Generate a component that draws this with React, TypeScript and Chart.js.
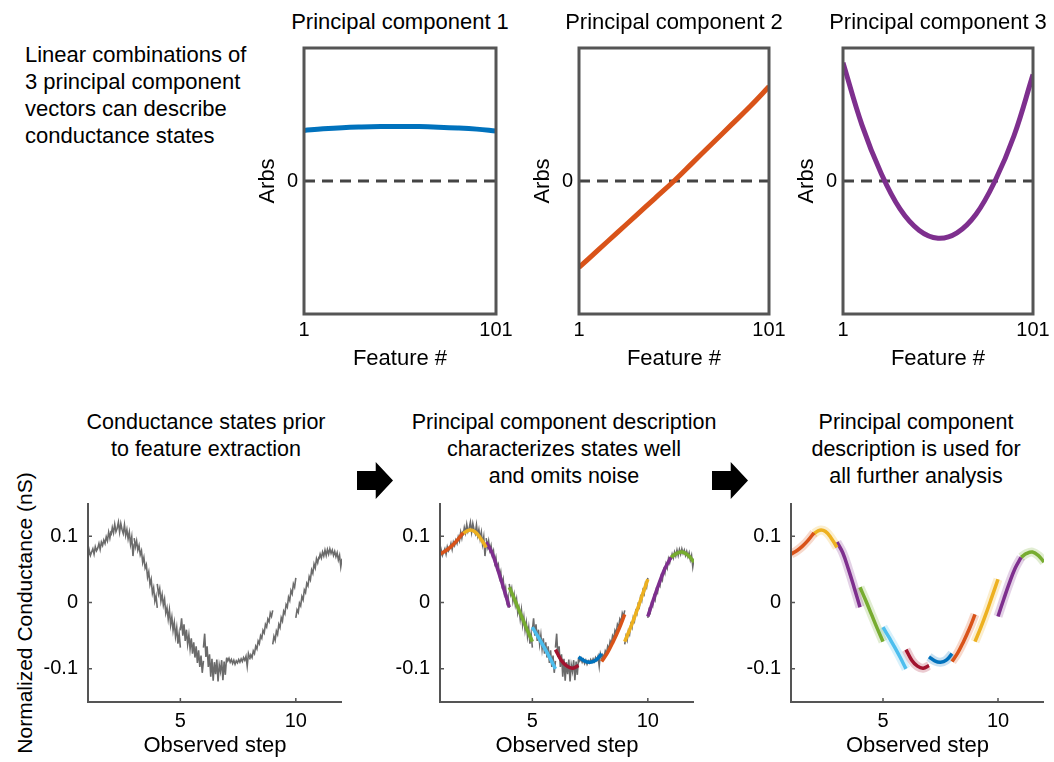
import React, { useEffect, useRef } from "react";
import { Chart, registerables } from "chart.js";

Chart.register(...registerables);

const FONT = '"Liberation Sans", Arial, Helvetica, sans-serif';
const AXIS_GRAY = "#555555";
const TRACE_GRAY = "#6b6b6b";

// ---------- Top row: principal component vectors ----------
const FEATURES = [1, 11, 21, 31, 41, 51, 61, 71, 81, 91, 101];
const FEATURE_TICKS = [1, 101];
const ARBS_TICKS = [0];
const PC1 = [0.38, 0.392, 0.401, 0.406, 0.409, 0.41, 0.409, 0.405, 0.399, 0.39, 0.376];
const PC2 = [-0.65, -0.52, -0.39, -0.26, -0.13, 0.0, 0.14, 0.28, 0.42, 0.56, 0.71];
const PC3 = [0.89, 0.42, 0.06, -0.21, -0.37, -0.43, -0.39, -0.25, 0.0, 0.34, 0.8];
const PC_TITLES = ["Principal component 1", "Principal component 2", "Principal component 3"];
const PC_COLORS = ["#0072BD", "#D95319", "#7E2F8E"];

// ---------- Bottom row: conductance states ----------
const STEPS = [1, 2, 3, 4, 5, 6, 7, 8, 9, 10, 11];
const STEP_TICKS = [5, 10];
const CONDUCTANCE_TICKS = [-0.1, 0, 0.1];
const FIT_OFFSETS = [0, 0.25, 0.5, 0.75, 1];

const RAW_1 = [0.068, 0.079, 0.071, 0.076, 0.081, 0.073, 0.084, 0.078, 0.082, 0.089, 0.08, 0.091, 0.086, 0.094, 0.089, 0.099, 0.093, 0.106, 0.097, 0.108];
const RAW_2 = [0.101, 0.113, 0.105, 0.118, 0.107, 0.112, 0.121, 0.106, 0.119, 0.11, 0.104, 0.117, 0.101, 0.11, 0.096, 0.106, 0.088, 0.099, 0.07, 0.089];
const RAW_3 = [0.097, 0.084, 0.093, 0.079, 0.086, 0.072, 0.078, 0.06, 0.068, 0.052, 0.057, 0.038, 0.046, 0.027, 0.035, 0.014, 0.022, 0.002, 0.01, -0.008];
const RAW_4 = [0.028, 0.013, 0.021, 0.002, 0.012, -0.004, 0.005, -0.016, -0.008, -0.025, -0.011, -0.034, -0.022, -0.042, -0.03, -0.051, -0.038, -0.062, -0.047, -0.068];
const RAW_5 = [-0.042, -0.024, -0.05, -0.033, -0.058, -0.041, -0.063, -0.049, -0.07, -0.054, -0.077, -0.06, -0.083, -0.066, -0.091, -0.072, -0.097, -0.08, -0.106, -0.088];
const RAW_6 = [-0.068, -0.047, -0.082, -0.066, -0.097, -0.078, -0.112, -0.085, -0.118, -0.09, -0.108, -0.086, -0.119, -0.094, -0.104, -0.087, -0.117, -0.089, -0.109, -0.084];
const RAW_7 = [-0.083, -0.088, -0.084, -0.09, -0.086, -0.092, -0.087, -0.093, -0.088, -0.091, -0.086, -0.09, -0.085, -0.089, -0.083, -0.087, -0.081, -0.096, -0.077, -0.083];
const RAW_8 = [-0.086, -0.079, -0.083, -0.073, -0.077, -0.066, -0.07, -0.058, -0.062, -0.05, -0.054, -0.042, -0.046, -0.033, -0.037, -0.025, -0.029, -0.016, -0.021, -0.012];
const RAW_9 = [-0.063, -0.051, -0.057, -0.043, -0.048, -0.033, -0.038, -0.023, -0.028, -0.013, -0.017, -0.003, -0.007, 0.008, 0.003, 0.018, 0.013, 0.028, 0.023, 0.037];
const RAW_10 = [-0.023, -0.011, -0.015, -0.001, -0.005, 0.009, 0.004, 0.019, 0.015, 0.029, 0.025, 0.039, 0.034, 0.049, 0.044, 0.058, 0.052, 0.066, 0.06, 0.069];
const RAW_11 = [0.065, 0.073, 0.067, 0.076, 0.07, 0.079, 0.071, 0.08, 0.073, 0.081, 0.074, 0.079, 0.071, 0.077, 0.069, 0.075, 0.064, 0.071, 0.054, 0.066];
const RAW_STATES = [RAW_1, RAW_2, RAW_3, RAW_4, RAW_5, RAW_6, RAW_7, RAW_8, RAW_9, RAW_10, RAW_11];

const FIT_1 = [0.073, 0.078, 0.085, 0.094, 0.105];
const FIT_2 = [0.104, 0.109, 0.107, 0.097, 0.083];
const FIT_3 = [0.091, 0.075, 0.05, 0.022, -0.007];
const FIT_4 = [0.023, 0.003, -0.018, -0.039, -0.059];
const FIT_5 = [-0.037, -0.052, -0.067, -0.083, -0.1];
const FIT_6 = [-0.071, -0.087, -0.096, -0.099, -0.095];
const FIT_7 = [-0.082, -0.088, -0.09, -0.087, -0.077];
const FIT_8 = [-0.089, -0.076, -0.059, -0.04, -0.018];
const FIT_9 = [-0.059, -0.038, -0.015, 0.01, 0.035];
const FIT_10 = [-0.021, 0.005, 0.03, 0.052, 0.068];
const FIT_11 = [0.068, 0.074, 0.076, 0.071, 0.061];
const FIT_STATES = [FIT_1, FIT_2, FIT_3, FIT_4, FIT_5, FIT_6, FIT_7, FIT_8, FIT_9, FIT_10, FIT_11];
const SEGMENT_COLORS = ["#D95319", "#EDB120", "#7E2F8E", "#77AC30", "#4DBEEE", "#A2142F", "#0072BD", "#D95319", "#EDB120", "#7E2F8E", "#77AC30"];

const BOTTOM_TITLES = [
  ["Conductance states prior", "to feature extraction"],
  ["Principal component description", "characterizes states well", "and omits noise"],
  ["Principal component", "description is used for", "all further analysis"],
];
const INTRO_TEXT = ["Linear combinations of", "3 principal component", "vectors can describe", "conductance states"];
const Y_LABEL = "Normalized Conductance (nS)";

function rgba(hex: string, a: number) {
  const n = parseInt(hex.slice(1), 16);
  return `rgba(${(n >> 16) & 255},${(n >> 8) & 255},${n & 255},${a})`;
}

const boxPlugin = {
  id: "boxFrame",
  afterDraw(chart: any) {
    const { ctx, chartArea } = chart;
    ctx.save();
    ctx.strokeStyle = AXIS_GRAY;
    ctx.lineWidth = 3;
    ctx.strokeRect(chartArea.left, chartArea.top, chartArea.right - chartArea.left, chartArea.bottom - chartArea.top);
    ctx.restore();
  },
};

const lAxisPlugin = {
  id: "lAxis",
  afterDraw(chart: any) {
    const { ctx, chartArea, scales } = chart;
    const { left, right, top, bottom } = chartArea;
    ctx.save();
    ctx.strokeStyle = AXIS_GRAY;
    ctx.lineWidth = 2;
    ctx.beginPath();
    ctx.moveTo(left, top);
    ctx.lineTo(left, bottom);
    ctx.lineTo(right, bottom);
    ctx.stroke();
    ctx.lineWidth = 1.5;
    ctx.beginPath();
    for (const v of STEP_TICKS) {
      const px = scales.x.getPixelForValue(v);
      ctx.moveTo(px, bottom);
      ctx.lineTo(px, bottom - 4);
    }
    for (const v of CONDUCTANCE_TICKS) {
      const py = scales.y.getPixelForValue(v);
      ctx.moveTo(left, py);
      ctx.lineTo(left + 4, py);
    }
    ctx.stroke();
    ctx.restore();
  },
};

const tickFont = { family: FONT, size: 20 };
const labelFont = { family: FONT, size: 22 };

const TOP_PAD_PC = 24;
const TOP_PAD_STATE = 26;

function pcConfig(values: number[], color: string, rightPad: number): any {
  return {
    type: "line",
    data: {
      datasets: [
        {
          data: FEATURES.map((f, i) => ({ x: f, y: values[i] })),
          borderColor: color,
          borderWidth: 5,
          pointRadius: 0,
          tension: 0.4,
          order: 0,
        },
        {
          data: [
            { x: FEATURES[0], y: 0 },
            { x: FEATURES[FEATURES.length - 1], y: 0 },
          ],
          borderColor: "#444444",
          borderWidth: 3,
          borderDash: [11, 7],
          pointRadius: 0,
          order: 1,
        },
      ],
    },
    options: {
      responsive: false,
      animation: false,
      events: [],
      layout: { padding: { top: TOP_PAD_PC, right: rightPad, left: 0, bottom: 0 } },
      plugins: { legend: { display: false }, tooltip: { enabled: false } },
      scales: {
        x: {
          type: "linear",
          min: 1,
          max: 101,
          afterBuildTicks: (s: any) => {
            s.ticks = FEATURE_TICKS.map((v) => ({ value: v }));
          },
          afterFit: (s: any) => {
            s.height = 58;
          },
          grid: { display: false, drawTicks: false },
          border: { display: false },
          ticks: { padding: 4, color: "#000", font: tickFont, maxRotation: 0, autoSkip: false },
          title: { display: true, text: "Feature #", color: "#000", font: labelFont, padding: { top: 0, bottom: 0 } },
        },
        y: {
          type: "linear",
          min: -1,
          max: 1,
          afterBuildTicks: (s: any) => {
            s.ticks = ARBS_TICKS.map((v) => ({ value: v }));
          },
          afterFit: (s: any) => {
            s.width = 54;
          },
          grid: { display: false, drawTicks: false },
          border: { display: false },
          ticks: { padding: 6, color: "#000", font: tickFont },
          title: { display: true, text: "Arbs", color: "#000", font: labelFont, padding: { top: 5, bottom: 0 } },
        },
      },
    },
    plugins: [boxPlugin],
  };
}

function stateConfig(opt: { raw: boolean; fits: boolean; bands: boolean; yWidth: number; rightPad: number }): any {
  const datasets: any[] = [];
  if (opt.fits) {
    STEPS.forEach((s, i) => {
      datasets.push({
        data: FIT_OFFSETS.map((o, k) => ({ x: s + o, y: FIT_STATES[i][k] })),
        borderColor: SEGMENT_COLORS[i],
        borderWidth: 3.5,
        pointRadius: 0,
        tension: 0.4,
        order: 0,
      });
    });
  }
  if (opt.bands) {
    STEPS.forEach((s, i) => {
      datasets.push({
        data: FIT_OFFSETS.map((o, k) => ({ x: s + o, y: FIT_STATES[i][k] })),
        borderColor: rgba(SEGMENT_COLORS[i], 0.22),
        borderWidth: 9,
        pointRadius: 0,
        tension: 0.4,
        order: 1,
      });
    });
  }
  if (opt.raw) {
    STEPS.forEach((s, i) => {
      const vals = RAW_STATES[i];
      datasets.push({
        data: vals.map((v, k) => ({ x: s + k / (vals.length - 1), y: v })),
        borderColor: TRACE_GRAY,
        borderWidth: 1.6,
        pointRadius: 0,
        tension: 0,
        order: 2,
      });
    });
  }
  return {
    type: "line",
    data: { datasets },
    options: {
      responsive: false,
      animation: false,
      events: [],
      layout: { padding: { top: TOP_PAD_STATE, right: opt.rightPad, left: 0, bottom: 0 } },
      plugins: { legend: { display: false }, tooltip: { enabled: false } },
      scales: {
        x: {
          type: "linear",
          min: 1,
          max: 12,
          afterBuildTicks: (s: any) => {
            s.ticks = STEP_TICKS.map((v) => ({ value: v }));
          },
          afterFit: (s: any) => {
            s.height = 57;
          },
          grid: { display: false, drawTicks: false },
          border: { display: false },
          ticks: { padding: 7, color: "#000", font: tickFont, maxRotation: 0, autoSkip: false },
          title: { display: true, text: "Observed step", color: "#000", font: labelFont, padding: { top: 0, bottom: 0 } },
        },
        y: {
          type: "linear",
          min: -0.15,
          max: 0.15,
          afterBuildTicks: (s: any) => {
            s.ticks = CONDUCTANCE_TICKS.map((v) => ({ value: v }));
          },
          afterFit: (s: any) => {
            s.width = opt.yWidth;
          },
          grid: { display: false, drawTicks: false },
          border: { display: false },
          ticks: {
            padding: 10,
            color: "#000",
            font: tickFont,
            callback: (v: any) => (Math.abs(v) < 1e-9 ? "0" : Number(v).toFixed(1)),
          },
        },
      },
    },
    plugins: [lAxisPlugin],
  };
}

function ChartBox(props: { left: number; top: number; width: number; height: number; make: () => any }) {
  const ref = useRef<HTMLCanvasElement | null>(null);
  useEffect(() => {
    const chart = new Chart(ref.current as HTMLCanvasElement, props.make());
    return () => chart.destroy();
  }, []);
  return (
    <canvas
      ref={ref}
      width={props.width}
      height={props.height}
      style={{ position: "absolute", left: props.left, top: props.top, width: props.width, height: props.height }}
    />
  );
}

function TextLines(props: { lines: string[]; cx?: number; left?: number; top: number; size: number; lh: number }) {
  const style: any = {
    position: "absolute",
    top: props.top,
    fontFamily: FONT,
    fontSize: props.size,
    lineHeight: `${props.lh}px`,
    color: "#000",
    whiteSpace: "nowrap",
  };
  if (props.cx !== undefined) {
    style.left = props.cx - 250;
    style.width = 500;
    style.textAlign = "center";
  } else {
    style.left = props.left;
  }
  return (
    <div style={style}>
      {props.lines.map((l, i) => (
        <div key={i}>{l}</div>
      ))}
    </div>
  );
}

function Arrow(props: { left: number; top: number }) {
  return (
    <div
      style={{
        position: "absolute",
        left: props.left,
        top: props.top,
        width: 36,
        height: 37,
        background: "#000",
        clipPath: "polygon(0 24%, 52% 24%, 52% 0, 100% 50%, 52% 100%, 52% 76%, 0 76%)",
      }}
    />
  );
}

export default function App() {
  const pcBoxes = [
    { boxLeft: 304, boxW: 192, rightPad: 22 },
    { boxLeft: 579, boxW: 190, rightPad: 22 },
    { boxLeft: 843, boxW: 190, rightPad: 21 },
  ];
  const pcValues = [PC1, PC2, PC3];
  const pcTop = 48 - TOP_PAD_PC;
  const stTop = 503 - TOP_PAD_STATE;
  return (
    <div style={{ position: "absolute", left: 0, top: 0, width: 1054, height: 762, overflow: "hidden", background: "#fff" }}>
      <TextLines lines={INTRO_TEXT} left={25} top={41} size={22} lh={27} />
      {pcBoxes.map((b, i) => (
        <React.Fragment key={"pc" + i}>
          <TextLines lines={[PC_TITLES[i]]} cx={b.boxLeft + b.boxW / 2} top={9} size={22} lh={26} />
          <ChartBox
            left={b.boxLeft - 54}
            top={pcTop}
            width={54 + b.boxW + b.rightPad}
            height={TOP_PAD_PC + 266 + 58}
            make={() => pcConfig(pcValues[i], PC_COLORS[i], b.rightPad)}
          />
        </React.Fragment>
      ))}

      <TextLines lines={BOTTOM_TITLES[0]} cx={206} top={409} size={21.5} lh={27} />
      <TextLines lines={BOTTOM_TITLES[1]} cx={564} top={409} size={21.5} lh={27} />
      <TextLines lines={BOTTOM_TITLES[2]} cx={916} top={409} size={21.5} lh={27} />
      <Arrow left={357} top={462} />
      <Arrow left={712} top={462} />

      <div
        style={{
          position: "absolute",
          left: 25 - 200,
          top: 613 - 13,
          width: 400,
          height: 26,
          lineHeight: "26px",
          textAlign: "center",
          fontFamily: FONT,
          fontSize: 21,
          color: "#000",
          whiteSpace: "nowrap",
          transform: "rotate(-90deg)",
        }}
      >
        {Y_LABEL}
      </div>

      <ChartBox
        left={0}
        top={stTop}
        width={88 + 254 + 12}
        height={TOP_PAD_STATE + 199 + 57}
        make={() => stateConfig({ raw: true, fits: false, bands: false, yWidth: 88, rightPad: 12 })}
      />
      <ChartBox
        left={390}
        top={stTop}
        width={50 + 254 + 12}
        height={TOP_PAD_STATE + 199 + 57}
        make={() => stateConfig({ raw: true, fits: true, bands: false, yWidth: 50, rightPad: 12 })}
      />
      <ChartBox
        left={741}
        top={stTop}
        width={50 + 253 + 8}
        height={TOP_PAD_STATE + 199 + 57}
        make={() => stateConfig({ raw: false, fits: true, bands: true, yWidth: 50, rightPad: 8 })}
      />
    </div>
  );
}
